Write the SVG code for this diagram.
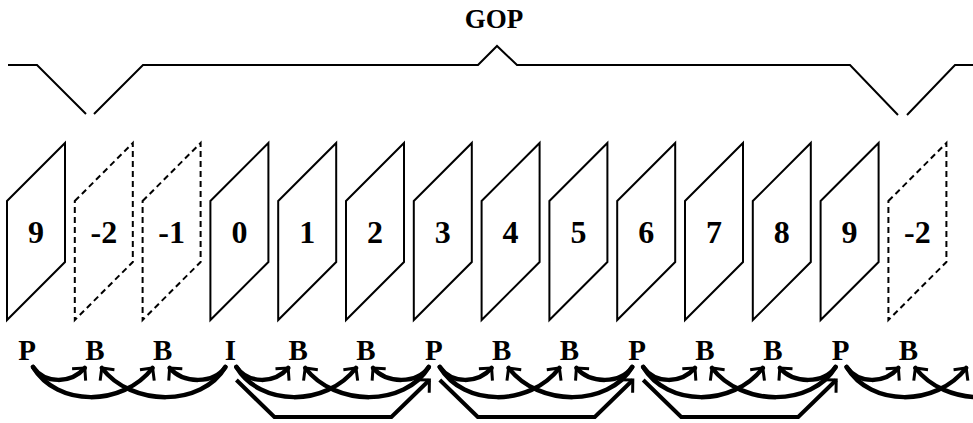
<svg xmlns="http://www.w3.org/2000/svg" xmlns:xlink="http://www.w3.org/1999/xlink" width="973" height="423" viewBox="0 0 973 423">
  <style>
    .lbl { font-family: "Liberation Serif", "Times New Roman", serif; font-weight: bold; font-size: 29px; text-anchor: middle; fill: #000; }
    .num { font-family: "Liberation Serif", "Times New Roman", serif; font-weight: bold; font-size: 32px; text-anchor: middle; fill: #000; }
    .title { font-family: "Liberation Serif", "Times New Roman", serif; font-weight: bold; font-size: 27px; text-anchor: middle; fill: #000; }
    .frame { fill: none; stroke: #000; stroke-width: 2; stroke-linejoin: miter; }
    .ghost { stroke-dasharray: 6 4; }
    .brace { fill: none; stroke: #000; stroke-width: 2; }
    .arc { fill: none; stroke: #000; stroke-width: 4.5; stroke-linecap: round; marker-end: url(#arr); }
    .fwd { fill: none; stroke: #000; stroke-width: 4; stroke-linejoin: miter; marker-end: url(#arr); }
  </style>
  <defs>
    <!-- one picture frame drawn as a slanted parallelogram -->
    <path id="pic" d="M0,201 L58,143 L58,262 L0,320 Z"/>
    <marker id="arr" markerUnits="userSpaceOnUse" viewBox="-16 -12 20 24" markerWidth="20" markerHeight="24" refX="0" refY="0" orient="auto" overflow="visible">
      <path d="M-9,-9 L0,0 L-9,9" fill="none" stroke="#000" stroke-width="3" stroke-linejoin="miter"/>
    </marker>
  </defs>

  <!-- group-of-pictures bracket -->
  <g id="gop">
    <text class="title" x="494" y="28">GOP</text>
    <polyline class="brace" points="8,65 37,65 86,114"/>
    <polyline class="brace" points="94,114 143,65 478,65 497,46 517,65 850,65 898,115"/>
    <polyline class="brace" points="907,115 955,65 973,65"/>
  </g>

  <!-- frames in display order -->
  <g id="frame-9-prev" transform="translate(7,0)"><use xlink:href="#pic" class="frame"/><text class="num" x="29" y="243">9</text></g>
  <g id="frame-m2" transform="translate(74.8,0)"><use xlink:href="#pic" class="frame ghost"/><text class="num" x="29" y="243">-2</text></g>
  <g id="frame-m1" transform="translate(142.6,0)"><use xlink:href="#pic" class="frame ghost"/><text class="num" x="29" y="243">-1</text></g>
  <g id="frame-0" transform="translate(210.4,0)"><use xlink:href="#pic" class="frame"/><text class="num" x="29" y="243">0</text></g>
  <g id="frame-1" transform="translate(278.2,0)"><use xlink:href="#pic" class="frame"/><text class="num" x="29" y="243">1</text></g>
  <g id="frame-2" transform="translate(346,0)"><use xlink:href="#pic" class="frame"/><text class="num" x="29" y="243">2</text></g>
  <g id="frame-3" transform="translate(413.8,0)"><use xlink:href="#pic" class="frame"/><text class="num" x="29" y="243">3</text></g>
  <g id="frame-4" transform="translate(481.6,0)"><use xlink:href="#pic" class="frame"/><text class="num" x="29" y="243">4</text></g>
  <g id="frame-5" transform="translate(549.4,0)"><use xlink:href="#pic" class="frame"/><text class="num" x="29" y="243">5</text></g>
  <g id="frame-6" transform="translate(617.2,0)"><use xlink:href="#pic" class="frame"/><text class="num" x="29" y="243">6</text></g>
  <g id="frame-7" transform="translate(685,0)"><use xlink:href="#pic" class="frame"/><text class="num" x="29" y="243">7</text></g>
  <g id="frame-8" transform="translate(752.8,0)"><use xlink:href="#pic" class="frame"/><text class="num" x="29" y="243">8</text></g>
  <g id="frame-9" transform="translate(820.6,0)"><use xlink:href="#pic" class="frame"/><text class="num" x="29" y="243">9</text></g>
  <g id="frame-m2-next" transform="translate(888.4,0)"><use xlink:href="#pic" class="frame ghost"/><text class="num" x="29" y="243">-2</text></g>

  <!-- picture types -->
  <g id="types">
    <text id="t0" class="lbl" x="27" y="360">P</text>
    <text id="t1" class="lbl" x="94.8" y="360">B</text>
    <text id="t2" class="lbl" x="162.6" y="360">B</text>
    <text id="t3" class="lbl" x="230.4" y="360">I</text>
    <text id="t4" class="lbl" x="298.2" y="360">B</text>
    <text id="t5" class="lbl" x="366" y="360">B</text>
    <text id="t6" class="lbl" x="433.8" y="360">P</text>
    <text id="t7" class="lbl" x="501.6" y="360">B</text>
    <text id="t8" class="lbl" x="569.4" y="360">B</text>
    <text id="t9" class="lbl" x="637.2" y="360">P</text>
    <text id="t10" class="lbl" x="705" y="360">B</text>
    <text id="t11" class="lbl" x="772.8" y="360">B</text>
    <text id="t12" class="lbl" x="840.6" y="360">P</text>
    <text id="t13" class="lbl" x="908.4" y="360">B</text>
  </g>

  <!-- prediction references -->
  <g id="connectors">
    <!-- from P (27) -->
    <path class="arc" d="M33,367 C45,384 70.8,384 84.8,368"/>
    <path class="arc" d="M33,367 C57,407 122.6,407 152.6,368"/>
    <!-- from I (230.4) -->
    <path class="arc" d="M225.4,367 C213.4,384 183.6,384 169.6,368"/>
    <path class="arc" d="M225.4,367 C201.4,407 131.8,407 101.8,368"/>
    <path class="arc" d="M236.4,367 C248.4,384 274.2,384 288.2,368"/>
    <path class="arc" d="M236.4,367 C260.4,407 326,407 356,368"/>
    <polyline class="fwd" points="236.4,380 274.4,417 391.4,417 429.4,380"/>
    <!-- from P (433.8) -->
    <path class="arc" d="M428.8,367 C416.8,384 387,384 373,368"/>
    <path class="arc" d="M428.8,367 C404.8,407 335.2,407 305.2,368"/>
    <path class="arc" d="M439.8,367 C451.8,384 477.6,384 491.6,368"/>
    <path class="arc" d="M439.8,367 C463.8,407 529.4,407 559.4,368"/>
    <polyline class="fwd" points="439.8,380 477.8,417 594.8,417 632.8,380"/>
    <!-- from P (637.2) -->
    <path class="arc" d="M632.2,367 C620.2,384 590.4,384 576.4,368"/>
    <path class="arc" d="M632.2,367 C608.2,407 538.6,407 508.6,368"/>
    <path class="arc" d="M643.2,367 C655.2,384 681,384 695,368"/>
    <path class="arc" d="M643.2,367 C667.2,407 732.8,407 762.8,368"/>
    <polyline class="fwd" points="643.2,380 681.2,417 798.2,417 836.2,380"/>
    <!-- from P (840.6) -->
    <path class="arc" d="M835.6,367 C823.6,384 793.8,384 779.8,368"/>
    <path class="arc" d="M835.6,367 C811.6,407 742,407 712,368"/>
    <path class="arc" d="M846.6,367 C858.6,384 884.4,384 898.4,368"/>
    <path class="arc" d="M846.6,367 C870.6,407 936.2,407 966.2,368"/>
    <!-- from the following P, beyond the right edge -->
    <path class="arc" d="M1039,367 C1015,407 945.4,407 915.4,368"/>
  </g>
</svg>
